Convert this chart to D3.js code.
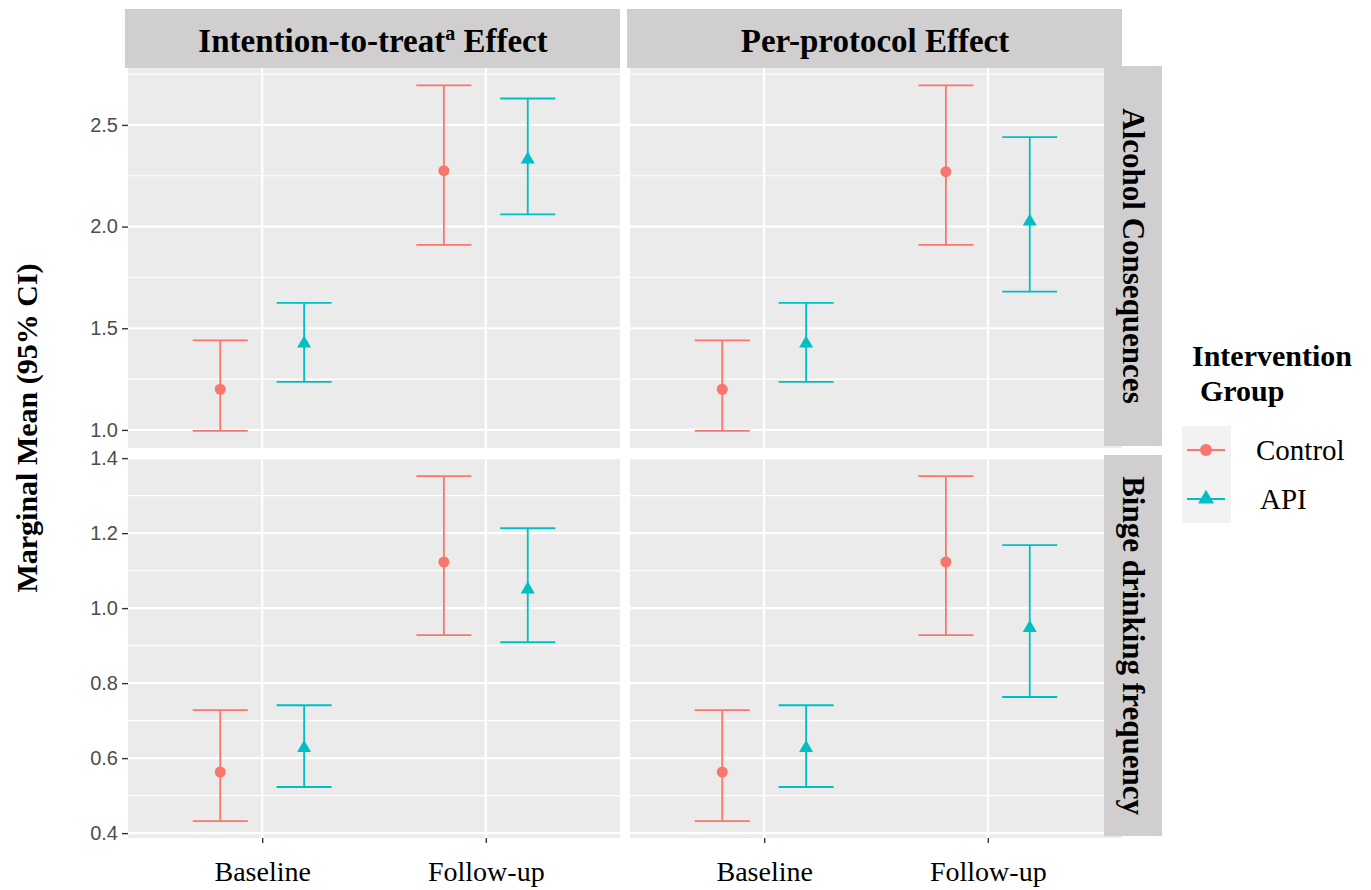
<!DOCTYPE html>
<html>
<head>
<meta charset="utf-8">
<script src="https://cdn.jsdelivr.net/npm/d3@7"></script>
<style>
  body { margin: 0; background: #fff; }
  svg { display: block; }
</style>
</head>
<body>
<div id="chart"></div>
<script>
// facets and categories
const effects = ["Intention-to-treat", "Per-protocol"];
const outcomes = ["Alcohol Consequences", "Binge drinking frequency"];
const times = ["Baseline", "Follow-up"];
const groups = ["Control", "API"];

// values per panel, order: Control-Baseline, Control-Follow-up, API-Baseline, API-Follow-up
const alcoholITTMean  = [1.20, 2.275, 1.425, 2.33];
const alcoholITTLower = [0.995, 1.91, 1.236, 2.06];
const alcoholITTUpper = [1.44, 2.695, 1.625, 2.63];
const alcoholPPMean   = [1.20, 2.27, 1.425, 2.025];
const alcoholPPLower  = [0.995, 1.91, 1.236, 1.68];
const alcoholPPUpper  = [1.44, 2.695, 1.625, 2.44];
const bingeITTMean    = [0.563, 1.123, 0.627, 1.05];
const bingeITTLower   = [0.432, 0.928, 0.523, 0.909];
const bingeITTUpper   = [0.728, 1.352, 0.741, 1.213];
const bingePPMean     = [0.563, 1.123, 0.627, 0.947];
const bingePPLower    = [0.432, 0.928, 0.523, 0.763];
const bingePPUpper    = [0.728, 1.352, 0.741, 1.168];

// axis ticks
const alcoholTicks = [1.0, 1.5, 2.0, 2.5];
const alcoholMinor = [1.25, 1.75, 2.25, 2.75];
const bingeTicks = [0.4, 0.6, 0.8, 1.0, 1.2, 1.4];
const bingeMinor = [0.5, 0.7, 0.9, 1.1, 1.3];

const COLORS = {Control: "#F8766D", API: "#00BFC4"};
const SERIF = "'Liberation Serif', 'Times New Roman', serif";
const SANS = "'Liberation Sans', Arial, sans-serif";

const panelData = [
  [[alcoholITTMean, alcoholITTLower, alcoholITTUpper], [alcoholPPMean, alcoholPPLower, alcoholPPUpper]],
  [[bingeITTMean, bingeITTLower, bingeITTUpper], [bingePPMean, bingePPLower, bingePPUpper]]
];
const rowTicks = [alcoholTicks, bingeTicks];
const rowMinor = [alcoholMinor, bingeMinor];
const rowDomain = [[0.911, 2.78], [0.387, 1.403]];

// layout
const colLeft = [128, 630];
const colWidth = 492;
const rowTop = [68, 457];
const rowHeight = [380, 381];

const svg = d3.select("#chart").append("svg")
  .attr("width", 1371)
  .attr("height", 890);

function buildRows(vals) {
  let rows = [];
  groups.forEach((g, gi) => {
    times.forEach((t, ti) => {
      let k = gi * 2 + ti;
      rows.push({group: g, time: t, mean: vals[0][k], lo: vals[1][k], hi: vals[2][k]});
    });
  });
  return rows;
}

outcomes.forEach((outcome, r) => {
  let yscale = d3.scaleLinear()
                 .domain(rowDomain[r])
                 .range([rowTop[r] + rowHeight[r], rowTop[r]]);

  effects.forEach((effect, c) => {
    let xscale = d3.scalePoint()
                   .domain(times)
                   .range([colLeft[c], colLeft[c] + colWidth])
                   .padding(0.6);
    let step = xscale.step();
    let dodge = d3.scalePoint().domain(groups).range([-0.1875 * step, 0.1875 * step]);
    let capHalf = 0.123 * step;

    let g = svg.append("g");

    g.append("rect")
     .attr("x", colLeft[c]).attr("y", rowTop[r])
     .attr("width", colWidth).attr("height", rowHeight[r])
     .attr("fill", "#EBEBEB");

    g.selectAll(".minor").data(rowMinor[r]).join("line")
     .attr("x1", colLeft[c]).attr("x2", colLeft[c] + colWidth)
     .attr("y1", d => yscale(d)).attr("y2", d => yscale(d))
     .attr("stroke", "#fff").attr("stroke-width", 1.2);

    g.selectAll(".major").data(rowTicks[r]).join("line")
     .attr("x1", colLeft[c]).attr("x2", colLeft[c] + colWidth)
     .attr("y1", d => yscale(d)).attr("y2", d => yscale(d))
     .attr("stroke", "#fff").attr("stroke-width", 2.2);

    g.selectAll(".vmajor").data(times).join("line")
     .attr("x1", d => xscale(d)).attr("x2", d => xscale(d))
     .attr("y1", rowTop[r]).attr("y2", rowTop[r] + rowHeight[r])
     .attr("stroke", "#fff").attr("stroke-width", 2.2);

    let rows = buildRows(panelData[r][c]);

    rows.forEach(d => {
      let cx = xscale(d.time) + dodge(d.group);
      let col = COLORS[d.group];
      g.append("line")
       .attr("x1", cx).attr("x2", cx)
       .attr("y1", yscale(d.lo)).attr("y2", yscale(d.hi))
       .attr("stroke", col).attr("stroke-width", 1.8);
      [d.lo, d.hi].forEach(v => {
        g.append("line")
         .attr("x1", cx - capHalf).attr("x2", cx + capHalf)
         .attr("y1", yscale(v)).attr("y2", yscale(v))
         .attr("stroke", col).attr("stroke-width", 1.8);
      });
      if (d.group === "Control") {
        g.append("circle")
         .attr("cx", cx).attr("cy", yscale(d.mean)).attr("r", 5.5)
         .attr("fill", col);
      } else {
        g.append("path")
         .attr("d", d3.symbol(d3.symbolTriangle, 85)())
         .attr("transform", `translate(${cx},${yscale(d.mean)})`)
         .attr("fill", col);
      }
    });

    // y axis on left column only
    if (c === 0) {
      let ya = svg.append("g")
                  .attr("transform", `translate(${colLeft[0]},0)`)
                  .call(d3.axisLeft(yscale).tickValues(rowTicks[r]).tickSize(6).tickPadding(4).tickFormat(d3.format(".1f")));
      ya.select(".domain").remove();
      ya.selectAll("line").attr("stroke", "#333").attr("stroke-width", 1.4);
      ya.selectAll("text").attr("font-family", SANS).attr("font-size", 20).attr("fill", "#4D4D4D");
    }

    // x axis on bottom row only
    if (r === 1) {
      let xa = svg.append("g")
                  .attr("transform", `translate(0,${rowTop[1] + rowHeight[1]})`)
                  .call(d3.axisBottom(xscale).tickSize(5).tickPadding(18));
      xa.select(".domain").remove();
      xa.selectAll("line").attr("stroke", "#333").attr("stroke-width", 1.4);
      xa.selectAll("text").attr("font-family", SERIF).attr("font-size", 28).attr("fill", "#000");
    }
  });

  // right strip
  svg.append("rect")
     .attr("x", 1104).attr("y", rowTop[r] - 2)
     .attr("width", 58).attr("height", rowHeight[r])
     .attr("fill", "#D0CECF");
  svg.append("text")
     .attr("transform", `translate(1123,${rowTop[r] - 2 + rowHeight[r] / 2}) rotate(90)`)
     .attr("text-anchor", "middle")
     .attr("font-family", SERIF).attr("font-weight", "bold").attr("font-size", 31)
     .text(outcome);
});

// top strips
effects.forEach((effect, c) => {
  svg.append("rect")
     .attr("x", colLeft[c] - 3).attr("y", 9)
     .attr("width", colWidth + 3).attr("height", 59)
     .attr("fill", "#D0CECF");
  let t = svg.append("text")
             .attr("x", colLeft[c] + colWidth / 2 - 1).attr("y", 52)
             .attr("text-anchor", "middle")
             .attr("font-family", SERIF).attr("font-weight", "bold").attr("font-size", 33);
  if (c === 0) {
    t.append("tspan").text(effect);
    t.append("tspan").attr("font-size", 20).attr("dy", -12).text("a");
    t.append("tspan").attr("dy", 12).text(" Effect");
  } else {
    t.text(effect + " Effect");
  }
});

// y axis title
svg.append("text")
   .attr("transform", "translate(37,428) rotate(-90)")
   .attr("text-anchor", "middle")
   .attr("font-family", SERIF).attr("font-weight", "bold").attr("font-size", 30)
   .text("Marginal Mean (95% CI)");

// legend
let legend = svg.append("g");
legend.append("text")
      .attr("x", 1192).attr("y", 366)
      .attr("font-family", SERIF).attr("font-weight", "bold").attr("font-size", 30)
      .text("Intervention");
legend.append("text")
      .attr("x", 1200).attr("y", 401)
      .attr("font-family", SERIF).attr("font-weight", "bold").attr("font-size", 30)
      .text("Group");
legend.append("rect")
      .attr("x", 1182).attr("y", 426).attr("width", 49).attr("height", 97)
      .attr("fill", "#F2F2F2");

let keyY = d3.scalePoint().domain(groups).range([450, 499]);
groups.forEach(gr => {
  let y = keyY(gr);
  legend.append("line")
        .attr("x1", 1187).attr("x2", 1225).attr("y1", y).attr("y2", y)
        .attr("stroke", COLORS[gr]).attr("stroke-width", 2);
  if (gr === "Control") {
    legend.append("circle").attr("cx", 1206).attr("cy", y).attr("r", 6).attr("fill", COLORS[gr]);
  } else {
    legend.append("path")
          .attr("d", d3.symbol(d3.symbolTriangle, 110)())
          .attr("transform", `translate(1206,${y})`)
          .attr("fill", COLORS[gr]);
  }
  legend.append("text")
        .attr("x", gr === "Control" ? 1256 : 1260).attr("y", y)
        .attr("dominant-baseline", "central")
        .attr("font-family", SERIF).attr("font-size", 29)
        .text(gr);
});
</script>
</body>
</html>
